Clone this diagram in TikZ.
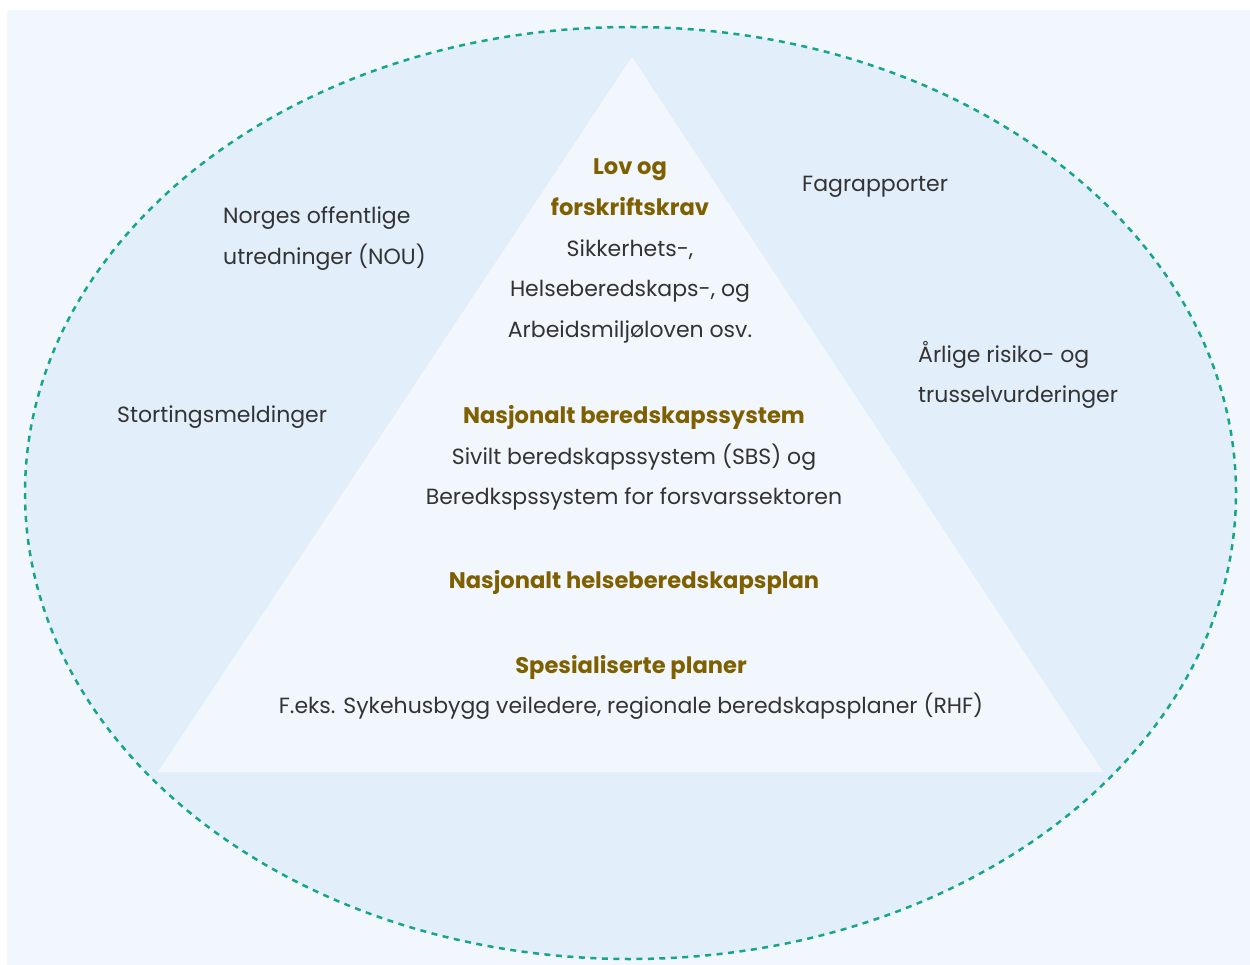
\documentclass[tikz,border=0pt]{standalone}
\usepackage{fontspec}
\usetikzlibrary{shapes.geometric}
\setmainfont{Poppins}
\definecolor{pale}{HTML}{F2F7FE}
\definecolor{ellfill}{HTML}{E2EFFB}
\definecolor{dashteal}{HTML}{17A589}
\definecolor{gold}{HTML}{7F6000}
\definecolor{txt}{HTML}{333333}
\tikzset{
  body/.style={text=txt, inner sep=0pt, font=\fontsize{22}{40.6}\selectfont},
  blockc/.style={body, align=center},
  blockl/.style={body, align=left, anchor=west},
  ttl/.style={text=gold, font=\fontsize{22.6}{40.6}\selectfont\bfseries, inner sep=0pt, align=center},
}
\newcommand{\gt}[1]{\textcolor{gold}{\fontsize{22.6}{40.6}\selectfont\bfseries #1}}
\begin{document}
\begin{tikzpicture}[x=1pt,y=-1pt]
\useasboundingbox (0,0) rectangle (1250,965);
\fill[white] (0,0) rectangle (1250,965);
\fill[pale] (7,10) rectangle (1250,965);
\node[ellipse, draw=none, minimum width=1211pt, minimum height=932pt, inner sep=0pt, fill=ellfill] (ell) at (630.5,493) {};
\draw[dashteal, line width=2.5pt, dash pattern=on 6pt off 5.5pt] (630.5,493) ellipse [x radius=605.5pt, y radius=466pt];
\coordinate (apex) at (632,57);
\coordinate (bl) at (158,772);
\coordinate (br) at (1103,772);
\fill[pale] (apex) -- (bl) -- (br) -- cycle;

\node[blockc] (lov) at (630,251) {\gt{Lov og}\\\gt{forskriftskrav}\\Sikkerhets-,\\Helseberedskaps-, og\\Arbeidsmiljøloven osv.};
\node[blockc] (nasj) at (634,458) {\gt{Nasjonalt beredskapssystem}\\Sivilt beredskapssystem (SBS) og\\Beredkspssystem for forsvarssektoren};
\node[ttl] (helse) at (634,582) {Nasjonalt helseberedskapsplan};
\node[blockc] (spes) at (631,687.5) {\gt{Spesialiserte planer}\\F.eks. Sykehusbygg veiledere, regionale beredskapsplaner (RHF)};
\node[blockl] (nou) at (223,238.5) {Norges offentlige\\utredninger (NOU)};
\node[blockl] (stort) at (117,417) {Stortingsmeldinger};
\node[blockl] (fag) at (802,187) {Fagrapporter};
\node[blockl] (arl) at (918,375) {Årlige risiko- og\\trusselvurderinger};
\end{tikzpicture}
\end{document}
